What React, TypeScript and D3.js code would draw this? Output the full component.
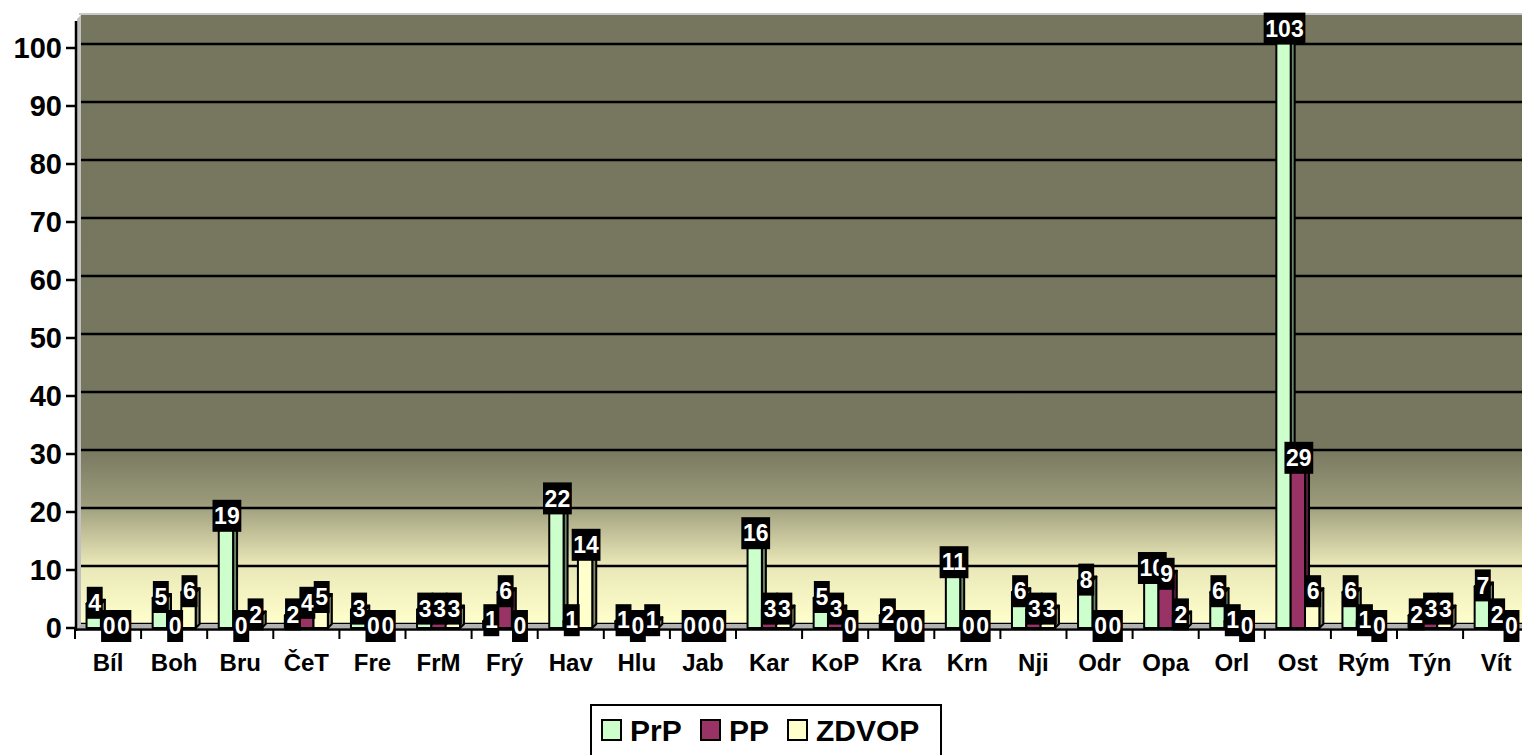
import * as d3 from "d3";

const categories = ["Bíl", "Boh", "Bru", "ČeT", "Fre", "FrM", "Frý", "Hav", "Hlu", "Jab", "Kar", "KoP", "Kra", "Krn", "Nji", "Odr", "Opa", "Orl", "Ost", "Rým", "Týn", "Vít"];
const seriesNames = ["PrP", "PP", "ZDVOP"];
const prp = [4, 5, 19, 2, 3, 3, 1, 22, 1, 0, 16, 5, 2, 11, 6, 8, 10, 6, 103, 6, 2, 7];
const pp = [0, 0, 0, 4, 0, 3, 6, 1, 0, 0, 3, 3, 0, 0, 3, 0, 9, 1, 29, 1, 3, 2];
const zdvop = [0, 6, 2, 5, 0, 3, 0, 14, 1, 0, 3, 0, 0, 0, 3, 0, 2, 0, 6, 0, 3, 0];
const yTicks = [0, 10, 20, 30, 40, 50, 60, 70, 80, 90, 100];

const colors = ["#CCFFCC", "#993366", "#FFFFCC"];
const font = "'Liberation Sans', Arial, sans-serif";

const W = 1522;
const H = 755;
const D = 4; // 3D depth offset

export default function App() {
  const values = [prp, pp, zdvop];

  const yBack = d3.scaleLinear().domain([0, 100]).range([624, 44]);
  const yFront = (v: number) => yBack(v) + D;

  const x = d3
    .scaleBand<string>()
    .domain(categories)
    .range([75, 75 + categories.length * 66.1]);
  const xs = d3
    .scaleBand<string>()
    .domain(seriesNames)
    .range([0, 43]);

  const plotLeft = 81;
  const plotTop = 15;
  const base = yFront(0);

  const barX = (ci: number, si: number) =>
    (x(categories[ci]) as number) + x.bandwidth() / 2 - 21.5 + (xs(seriesNames[si]) as number);

  const labelW = (s: string) => s.length * 12.9 + 3;

  return (
    <svg width={W} height={H} style={{ position: "absolute", left: 0, top: 0, background: "#fff" }}>
      <defs>
        <linearGradient id="wall" gradientUnits="userSpaceOnUse" x1={0} y1={plotTop} x2={0} y2={yBack(0)}>
          <stop offset="0" stopColor="#76765E" />
          <stop offset="0.71" stopColor="#77775F" />
          <stop offset="0.8" stopColor="#9A9A7A" />
          <stop offset="0.9" stopColor="#E8E6B6" />
          <stop offset="1" stopColor="#FFFFCC" />
        </linearGradient>
        <clipPath id="clip">
          <rect x={0} y={0} width={W} height={H} />
        </clipPath>
      </defs>

      {/* back wall */}
      <rect x={plotLeft} y={plotTop} width={W - plotLeft} height={yBack(0) - plotTop} fill="url(#wall)" />
      <line x1={plotLeft - 2} x2={W} y1={plotTop - 1} y2={plotTop - 1} stroke="#c8c8c8" strokeWidth={2} />
      {/* side wall */}
      <polygon
        points={`${plotLeft - D},${plotTop + D} ${plotLeft},${plotTop} ${plotLeft},${yBack(0)} ${plotLeft - D},${base}`}
        fill="#c0c0c0"
      />
      {/* gridlines */}
      {yTicks.map((t) => (
        <line key={t} x1={plotLeft} x2={W} y1={yBack(t)} y2={yBack(t)} stroke="#000" strokeWidth={2.5} />
      ))}
      {/* floor */}
      <polygon
        points={`${plotLeft - D},${base} ${plotLeft},${yBack(0)} ${W},${yBack(0)} ${W},${base}`}
        fill="#b2b2b2"
      />

      {/* bars */}
      <g clipPath="url(#clip)">
        {categories.map((c, ci) =>
          values.map((arr, si) => {
            const v = arr[ci];
            if (v <= 0) return null;
            const x0 = barX(ci, si);
            const x1 = x0 + xs.bandwidth();
            const top = yFront(v) - 1;
            const col = colors[si];
            const side = d3.color(col)!.darker(1.8).formatHex();
            const topCol = d3.color(col)!.darker(0.4).formatHex();
            return (
              <g key={c + si} stroke="#000" strokeWidth={2} strokeLinejoin="round">
                <polygon points={`${x1},${top} ${x1 + D},${top - D} ${x1 + D},${base - D} ${x1},${base}`} fill={side} />
                <polygon points={`${x0},${top} ${x0 + D},${top - D} ${x1 + D},${top - D} ${x1},${top}`} fill={topCol} />
                <rect x={x0} y={top} width={x1 - x0} height={base - top} fill={col} />
              </g>
            );
          })
        )}
      </g>

      {/* y axis */}
      <line x1={plotLeft - D - 1} x2={plotLeft - D - 1} y1={plotTop + D + 2} y2={base + 3} stroke="#000" strokeWidth={2.5} />
      {yTicks.map((t) => (
        <g key={t}>
          <line x1={66} x2={plotLeft - D} y1={yFront(t)} y2={yFront(t)} stroke="#000" strokeWidth={2.5} />
          <text
            x={62}
            y={yFront(t)}
            dy="0.36em"
            textAnchor="end"
            fontFamily={font}
            fontWeight="bold"
            fontSize={29}
            fill="#000"
          >
            {t}
          </text>
        </g>
      ))}

      {/* x axis */}
      <line x1={plotLeft - D - 2} x2={W} y1={base + 1.5} y2={base + 1.5} stroke="#000" strokeWidth={2.5} />
      {d3.range(categories.length + 1).map((i) => {
        const xx = 75 + i * x.bandwidth();
        return <line key={i} x1={xx} x2={xx} y1={base + 1} y2={base + 11} stroke="#000" strokeWidth={2} />;
      })}
      {categories.map((c) => (
        <text
          key={c}
          x={(x(c) as number) + x.bandwidth() / 2}
          y={671}
          textAnchor="middle"
          fontFamily={font}
          fontWeight="bold"
          fontSize={24}
          fill="#000"
        >
          {c}
        </text>
      ))}

      {/* data labels */}
      {values.map((arr, si) =>
        categories.map((c, ci) => {
          const v = arr[ci];
          const s = String(v);
          const cx = barX(ci, si) + xs.bandwidth() / 2 + 1;
          const cy = yBack(v) + 2;
          const w = labelW(s);
          return (
            <g key={c + "l" + si}>
              <rect x={cx - w / 2} y={cy - 16} width={w} height={32} fill="#000" />
              <text
                x={cx}
                y={cy}
                dy="0.36em"
                textAnchor="middle"
                fontFamily={font}
                fontWeight="bold"
                fontSize={23}
                fill="#fff"
              >
                {s}
              </text>
            </g>
          );
        })
      )}

      {/* legend */}
      <rect x={591} y={705} width={350} height={52} fill="#fff" stroke="#000" strokeWidth={2} />
      {seriesNames.map((n, i) => {
        const lx = [602, 701, 788][i];
        return (
          <g key={n}>
            <rect x={lx} y={720} width={19} height={20} fill={colors[i]} stroke="#000" strokeWidth={2} />
            <text x={lx + 28} y={741} fontFamily={font} fontWeight="bold" fontSize={30} fill="#000">
              {n}
            </text>
          </g>
        );
      })}
    </svg>
  );
}
